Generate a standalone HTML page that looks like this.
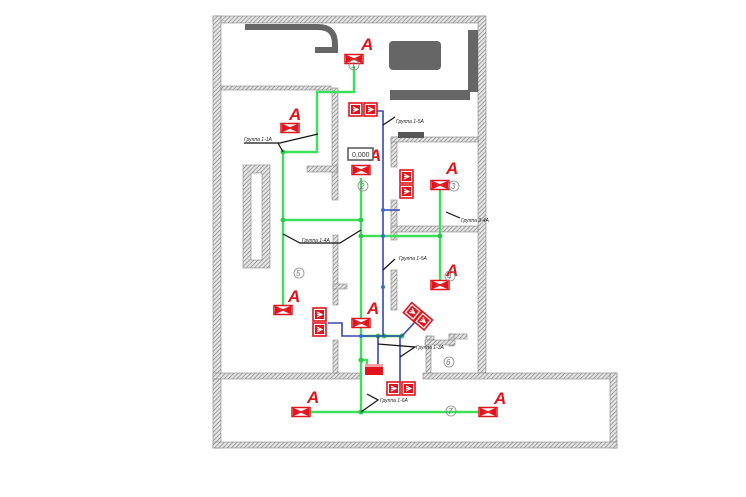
<!DOCTYPE html>
<html><head><meta charset="utf-8"><style>
html,body{margin:0;padding:0;background:#fff;width:746px;height:497px;overflow:hidden}
svg{display:block}
.t{font-family:"Liberation Sans",sans-serif;font-size:5px;font-style:italic;fill:#222}
.A{font-family:"Liberation Sans",sans-serif;font-size:17px;font-weight:bold;font-style:italic;fill:#e0141c}
.n{font-family:"Liberation Sans",sans-serif;font-size:8px;fill:#777;font-style:italic}
</style></head><body>
<svg width="746" height="497" viewBox="0 0 746 497">
<defs>
<pattern id="h" width="3" height="3" patternUnits="userSpaceOnUse" patternTransform="rotate(45)">
<rect width="3" height="3" fill="#e4e4e4"/><line x1="0" y1="0" x2="0" y2="3" stroke="#777" stroke-width="1.2"/></pattern>
<g id="fx"><rect x="-9" y="-4.5" width="18" height="9" fill="#fff" stroke="#e0141c" stroke-width="1.5"/><path d="M-8,-3.5 L8,3.5 M-8,3.5 L8,-3.5" stroke="#e0141c" stroke-width="1.5"/><path d="M-8,-3.5 L-2,0 L-8,3.5Z M8,-3.5 L2,0 L8,3.5Z" fill="#e0141c"/></g>
<g id="ex"><rect x="0" y="0" width="13" height="13" fill="#fff" stroke="#e0141c" stroke-width="1.6"/><rect x="2" y="2" width="9" height="9" fill="#e0141c"/><path d="M4,4 L9,6.5 L4,9 M4,6.5 H9" stroke="#fff" stroke-width="1.2" fill="none"/></g>
</defs>
<g fill="url(#h)" stroke="#888" stroke-width="0.6">
<!-- outer walls -->
<rect x="213" y="16" width="272" height="7"/>
<rect x="213" y="16" width="8" height="432"/>
<rect x="478" y="16" width="8" height="357"/>
<rect x="213" y="373" width="147" height="6"/>
<rect x="423" y="373" width="194" height="6"/>
<rect x="610" y="373" width="7" height="75"/>
<rect x="213" y="442" width="404" height="6"/>
<rect x="221" y="86" width="110" height="4"/>
<rect x="332" y="88" width="6" height="112"/>
<rect x="307" y="166" width="30" height="6"/>
<rect x="243" y="165" width="27" height="103"/>
<rect x="391" y="137" width="6" height="30"/>
<rect x="391" y="137" width="87" height="5"/>
<rect x="391" y="200" width="6" height="40"/>
<rect x="391" y="226" width="87" height="6"/>
<rect x="333" y="235" width="5" height="70"/>
<rect x="333" y="284" width="14" height="5"/>
<rect x="391" y="270" width="6" height="40"/>
<rect x="333" y="340" width="5" height="33"/>
<rect x="426" y="336" width="5" height="37"/>
<rect x="426" y="336" width="8" height="4"/>
<rect x="449" y="334" width="18" height="5"/>
<rect x="449" y="334" width="5" height="12"/>
<rect x="425" y="340" width="30" height="5"/>
</g>
<rect x="251" y="173" width="11" height="87" fill="#fff" stroke="#888" stroke-width="0.6"/>
<!-- top room items -->
<path d="M245,27 H318 Q335,27 335,44 V50 H315" fill="none" stroke="#666" stroke-width="6"/>
<rect x="389" y="41" width="52" height="29" rx="4" fill="#666"/>
<rect x="468" y="30" width="10" height="62" fill="#666"/>
<rect x="390" y="90" width="80" height="10" fill="#666"/>
<rect x="398" y="132" width="26" height="6" fill="#555"/>
<!-- green lines -->
<g stroke="#3ce05a" stroke-width="2.4" fill="none">
<path d="M354,66 V92 H317 V152 H283 V305"/>
<path d="M283,220 H361"/>
<path d="M361,178 V412"/>
<path d="M361,236 H440 V280"/>
<path d="M440,190 V236"/>
<path d="M361,336 H402"/>
<path d="M300,412 H480"/>
<path d="M361,360 H367 V366"/>
</g>
<g fill="#2ec84a"><circle cx="283" cy="152" r="2.5"/><circle cx="283" cy="220" r="2.5"/><circle cx="361" cy="220" r="2.5"/><circle cx="361" cy="236" r="2.5"/><circle cx="440" cy="236" r="2.5"/><circle cx="378" cy="336" r="2.5"/><circle cx="384" cy="336" r="2.5"/><circle cx="402" cy="336" r="2.5"/><circle cx="361" cy="412" r="2.5"/><circle cx="361" cy="360" r="2.5"/></g>
<!-- blue lines -->
<g stroke="#3448b0" stroke-width="1.6" fill="none">
<path d="M377,111 H383 V336"/>
<path d="M383,210 H400"/>
<path d="M328,323 H342 V336 H402"/>
<path d="M402,336 L415,322"/>
<path d="M378,336 V364"/>
<path d="M400,336 V383"/>
</g>
<g fill="#3a6ad0"><circle cx="383" cy="210" r="2"/><circle cx="383" cy="236" r="2"/><circle cx="383" cy="287" r="2"/><circle cx="361" cy="336" r="2"/></g>
<!-- leader lines -->
<g stroke="#111" stroke-width="1.2" fill="none">
<path d="M244,143 H280 L318,134"/><path d="M278,143 L283,152"/>
<path d="M383,125 L395,117"/>
<path d="M446,212 L460,218"/>
<path d="M283,234 L300,243 H340 L361,230"/>
<path d="M383,270 L395,259"/>
<path d="M378,344 L415,347 L400,357"/>
<path d="M367,394 L378,400 L361,412"/>
</g>
<g class="t">
<text x="244" y="141">Группа 1-1А</text>
<text x="396" y="123">Группа 1-5А</text>
<text x="461" y="222">Группа 3-4А</text>
<text x="302" y="242">Группа 1-4А</text>
<text x="399" y="260">Группа 1-5А</text>
<text x="416" y="349">Группа 1-3А</text>
<text x="380" y="402">Группа 1-6А</text>
</g>
<!-- fixtures -->
<use href="#fx" x="354" y="59"/><use href="#fx" x="290" y="128"/><use href="#fx" x="361" y="170"/>
<use href="#fx" x="440" y="185"/><use href="#fx" x="440" y="285"/><use href="#fx" x="283" y="310"/>
<use href="#fx" x="361" y="323"/><use href="#fx" x="301" y="412"/><use href="#fx" x="488" y="412"/>
<g class="A">
<text x="361" y="50">A</text><text x="289" y="120">A</text><text x="369" y="161">A</text>
<text x="446" y="174">A</text><text x="446" y="276">A</text><text x="288" y="302">A</text>
<text x="367" y="314">A</text><text x="307" y="403">A</text><text x="494" y="404">A</text>
</g>
<!-- exit signs -->
<use href="#ex" x="349" y="103"/><use href="#ex" x="364" y="103"/>
<use href="#ex" x="400" y="170"/><use href="#ex" x="400" y="185"/>
<use href="#ex" x="313" y="308"/><use href="#ex" x="313" y="323"/>
<g transform="rotate(40 418 317)"><use href="#ex" x="404" y="310"/><use href="#ex" x="418" y="310"/></g>
<use href="#ex" x="387" y="382"/><use href="#ex" x="402" y="382"/>
<rect x="348" y="148" width="25" height="12" fill="#fff" stroke="#555" stroke-width="1.5"/>
<text x="352" y="157" style="font:7px 'Liberation Sans',sans-serif;fill:#333">0,000</text>
<rect x="365" y="364" width="18" height="11" fill="#e0141c"/><rect x="365" y="364" width="18" height="3" fill="#fff" opacity=".6"/>
<!-- room numbers -->
<g fill="none" stroke="#888" stroke-width="0.8">
<circle cx="354" cy="65" r="5"/><circle cx="363" cy="186" r="5"/><circle cx="454" cy="186" r="5"/><circle cx="450" cy="276" r="5"/><circle cx="299" cy="273" r="5"/><circle cx="449" cy="362" r="5"/><circle cx="451" cy="411" r="5"/></g>
<g class="n"><text x="351" y="68">1</text><text x="360" y="189">2</text><text x="451" y="189">3</text><text x="447" y="279">4</text><text x="296" y="276">5</text><text x="446" y="365">6</text><text x="448" y="414">7</text></g>
</svg>
</body></html>
